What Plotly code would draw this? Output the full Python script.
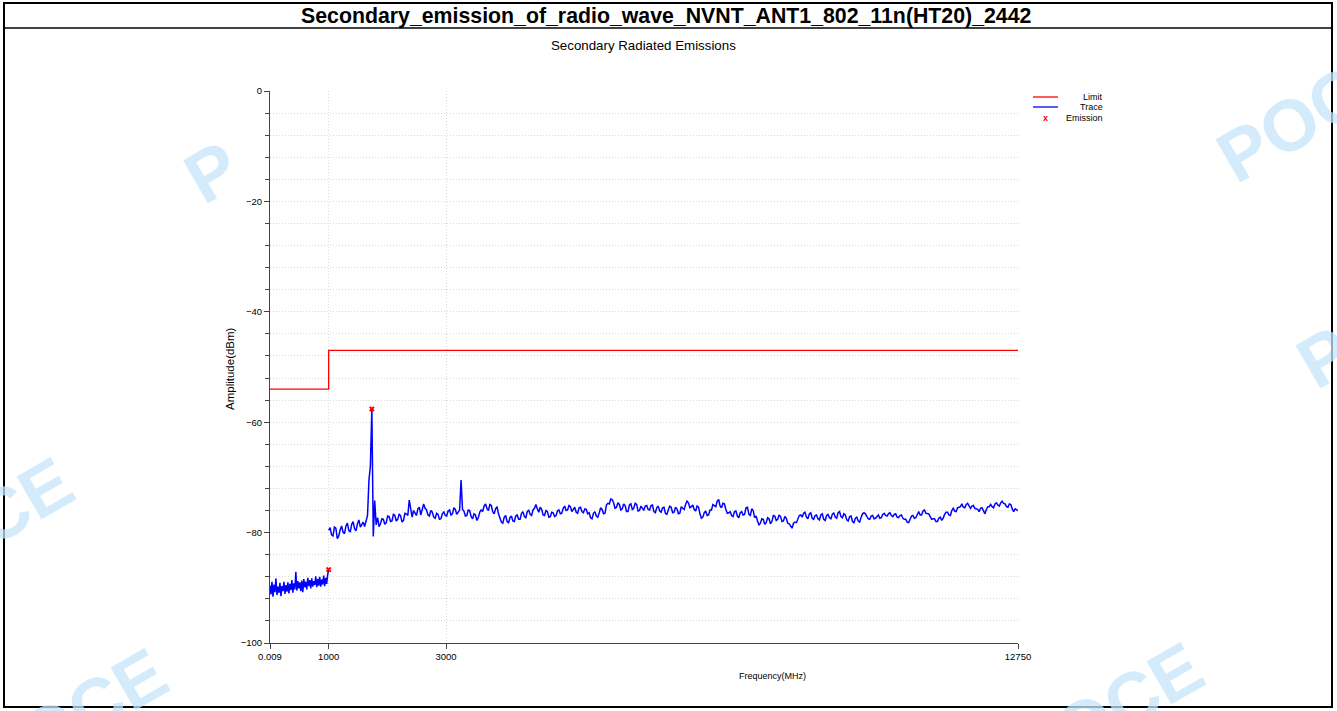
import numpy as np
import plotly.graph_objects as go

# ---- data -------------------------------------------------------------
# Limit line (dBm), step at 1 GHz
limit_freq = [0.009, 1000, 1000, 12750]
limit_level = [-54, -54, -47, -47]

# Measured trace, 9 kHz - 1 GHz (dBm)
trace_low = [
    -89.6, -91.2, -88.9, -91.6, -89.4, -90.8, -88.3, -91.3, -89.8, -90.9,
    -89.1, -91.5, -89.7, -90.6, -88.9, -91.1, -89.5, -90.7, -89.0, -91.0,
    -89.3, -90.4, -88.6, -90.9, -89.2, -90.3, -87.1, -90.5, -88.8, -90.1,
    -89.0, -90.6, -88.7, -90.8, -88.4, -89.9, -88.9, -90.3, -88.2, -89.7,
    -88.6, -90.1, -88.3, -89.8, -88.8, -89.5, -87.9, -89.9, -88.4, -89.6,
    -88.0, -89.8, -88.5, -89.4, -87.8, -89.7, -88.2, -89.3, -87.6, -86.7,
]

# Measured trace, 1 GHz - 12.75 GHz (dBm)
trace_high = [
    -79.6, -79.1, -80.4, -80.6, -79.0, -79.2, -81.1, -80.6, -79.5, -78.8,
    -79.9, -80.2, -78.8, -78.3, -79.6, -79.9, -78.5, -78.0, -79.3, -79.7,
    -78.4, -77.7, -79.0, -78.6, -78.1, -78.9, -77.8, -76.9, -70.5, -67.9,
    -57.6, -80.7, -74.2, -78.6, -77.3, -78.9, -78.4, -77.5, -77.6, -78.5,
    -78.2, -77.0, -77.1, -78.0, -77.9, -76.7, -76.9, -77.9, -77.6, -76.6,
    -77.0, -78.1, -77.8, -76.5, -76.6, -76.9, -74.1, -76.2, -77.2, -76.0,
    -76.4, -76.9, -75.7, -75.4, -76.8, -76.0, -74.8, -75.6, -75.9, -76.8,
    -77.0, -76.0, -76.3, -77.2, -77.4, -76.5, -76.7, -77.6, -77.5, -76.6,
    -76.2, -76.9, -77.0, -76.1, -75.9, -76.8, -76.6, -75.5, -75.8, -76.7,
    -76.4, -75.9, -70.5, -75.8, -76.1, -77.0, -76.9, -75.9, -76.0, -77.1,
    -77.5, -76.6, -76.8, -77.8, -77.3, -76.3, -75.9, -76.2, -75.2, -74.8,
    -75.6, -76.0, -74.9, -75.1, -76.2, -76.6, -75.7, -75.3, -76.6, -77.6,
    -78.1, -78.3, -77.2, -76.9, -78.0, -78.2, -77.3, -77.0, -77.9, -78.0,
    -77.0, -76.8, -77.6, -77.6, -76.5, -76.2, -77.1, -77.3, -76.2, -75.9,
    -76.7, -76.9, -75.9, -75.6, -74.9, -75.7, -76.3, -75.4, -75.8, -76.8,
    -76.9, -76.0, -76.2, -77.2, -77.1, -76.3, -76.4, -77.1, -76.9, -76.1,
    -75.9, -76.6, -76.5, -75.6, -75.2, -76.0, -75.9, -75.1, -75.3, -76.2,
    -75.7, -75.4, -76.3, -76.5, -75.5, -75.4, -76.2, -76.4, -75.7, -75.8,
    -76.6, -76.4, -77.3, -77.5, -76.5, -76.2, -77.0, -77.2, -76.4, -75.5,
    -75.8, -76.6, -76.5, -75.0, -74.7, -74.8, -73.9, -74.0, -74.6, -75.6,
    -75.4, -74.6, -74.9, -75.9, -75.7, -74.8, -75.1, -76.2, -76.2, -75.0,
    -74.8, -75.8, -75.6, -74.7, -74.9, -76.1, -76.0, -75.2, -75.6, -75.9,
    -75.2, -75.1, -75.8, -75.9, -75.1, -75.0, -76.2, -76.4, -75.5, -75.2,
    -76.1, -76.3, -75.5, -75.4, -76.5, -76.7, -75.9, -75.2, -75.4, -76.4,
    -76.3, -75.4, -75.7, -76.6, -76.5, -75.3, -75.6, -75.8, -74.9, -74.3,
    -74.6, -75.5, -75.3, -75.0, -75.8, -76.1, -75.2, -75.4, -76.6, -77.4,
    -77.2, -76.4, -76.1, -76.9, -76.8, -75.9, -75.9, -74.9, -75.1, -75.3,
    -74.3, -74.0, -75.2, -75.5, -74.7, -74.8, -75.8, -76.5, -76.4, -76.2,
    -76.9, -77.1, -76.2, -76.1, -77.0, -77.3, -76.4, -76.2, -76.8, -76.7,
    -75.5, -75.4, -76.7, -76.9, -75.7, -76.0, -77.3, -77.0, -77.9, -78.6,
    -78.3, -77.5, -77.6, -78.5, -78.2, -77.3, -77.5, -78.4, -78.0, -76.9,
    -77.0, -77.8, -77.6, -76.8, -77.1, -78.0, -77.9, -77.1, -77.4, -78.3,
    -78.4, -78.9, -79.2, -78.3, -78.1, -78.2, -77.5, -76.9, -76.8, -77.2,
    -76.5, -76.3, -77.2, -77.5, -76.6, -76.4, -77.4, -77.6, -76.9, -76.8,
    -77.5, -77.7, -76.8, -76.6, -77.6, -77.8, -76.9, -76.7, -77.3, -77.5,
    -76.7, -76.4, -77.2, -77.4, -76.4, -76.2, -77.1, -77.3, -76.6, -76.8,
    -77.7, -77.9, -77.1, -77.0, -78.0, -78.2, -77.4, -77.2, -77.9, -78.1,
    -77.2, -76.6, -76.4, -76.6, -77.1, -77.5, -77.6, -77.0, -76.9, -77.5,
    -77.4, -77.0, -76.8, -77.4, -77.3, -76.7, -76.5, -76.9, -77.0, -76.6,
    -76.4, -76.9, -77.1, -76.7, -76.6, -77.2, -77.3, -76.9, -76.8, -77.4,
    -77.6, -77.6, -78.1, -78.2, -77.5, -77.0, -76.9, -77.4, -77.3, -76.6,
    -76.2, -76.8, -76.8, -76.1, -75.9, -76.5, -76.6, -76.6, -77.1, -77.6,
    -77.5, -77.5, -78.0, -78.0, -77.4, -77.2, -77.8, -77.4, -76.7, -76.3,
    -76.3, -76.8, -76.9, -76.0, -75.6, -76.1, -76.2, -75.5, -75.4, -75.3,
    -74.8, -75.4, -75.5, -74.9, -74.7, -75.3, -75.6, -75.2, -75.1, -75.6,
    -75.7, -75.8, -76.2, -75.6, -75.5, -76.2, -76.6, -75.8, -75.3, -75.3,
    -74.9, -75.3, -75.5, -74.8, -74.6, -75.0, -75.2, -74.6, -74.3, -74.7,
    -74.8, -75.3, -75.4, -74.8, -74.9, -75.7, -76.2, -75.7, -75.8, -76.0,
]

# Sweep frequency grids (MHz)
freq_low = np.linspace(0.009, 1000, len(trace_low))
freq_high = np.linspace(1000, 12750, len(trace_high))

x_ticks = [0.009, 1000, 3000, 12750]
x_tick_text = ["0.009", "1000", "3000", "12750"]
y_ticks = [0, -20, -40, -60, -80, -100]

# Worst-case emission per sweep range
i_lo = int(np.argmax(trace_low))
i_hi = int(np.argmax(trace_high))
emission_freq = [freq_low[i_lo], freq_high[i_hi]]
emission_level = [trace_low[i_lo], trace_high[i_hi]]

# ---- geometry helpers (pixel -> paper) --------------------------------
W, H = 1337, 711
L, R, T, B = 270, 1018, 91, 643


def px(x):
    return (x - L) / (R - L)


def py(y):
    return (B - y) / (B - T)


FONT = "Liberation Sans, Arial, sans-serif"
WM = "rgba(196, 228, 250, 0.75)"

fig = go.Figure()

fig.add_trace(go.Scatter(
    x=limit_freq, y=limit_level, mode="lines",
    line=dict(color="#ff0000", width=1.3), name="Limit", showlegend=False,
))
fig.add_trace(go.Scatter(
    x=list(freq_low) + [None] + list(freq_high),
    y=trace_low + [None] + trace_high,
    mode="lines", line=dict(color="#0000ff", width=1.5),
    name="Trace", showlegend=False, connectgaps=False,
))
fig.add_trace(go.Scatter(
    x=emission_freq, y=emission_level, mode="markers",
    marker=dict(symbol="x", size=5, color="#ff0000", line=dict(width=0)),
    name="Emission", showlegend=False,
))

shapes = []
annotations = []

# faint background watermarks
for txt, cx, cy in [("POCE", 1312, 112), ("POCE", 1392, 318), ("POCE", 1108, 712),
                    ("POCE", -22, 527), ("POCE", 72, 718)]:
    annotations.append(dict(
        text=txt, x=px(cx), y=py(cy), xref="paper", yref="paper",
        showarrow=False, textangle=-30,
        font=dict(family=FONT, size=72, color=WM, weight="bold"),
        xanchor="center", yanchor="middle",
    ))
annotations.append(dict(
    text="P", x=px(212), y=py(172), xref="paper", yref="paper",
    showarrow=False, textangle=-30,
    font=dict(family=FONT, size=72, color=WM, weight="bold"),
    xanchor="center", yanchor="middle",
))

# outer frame and title bar
shapes.append(dict(type="rect", xref="paper", yref="paper",
                   x0=px(4), x1=px(1332), y0=py(707), y1=py(3),
                   line=dict(color="#000000", width=2)))
shapes.append(dict(type="line", xref="paper", yref="paper",
                   x0=px(4), x1=px(1332), y0=py(28), y1=py(28),
                   line=dict(color="#000000", width=1.5)))

annotations.append(dict(
    text="Secondary_emission_of_radio_wave_NVNT_ANT1_802_11n(HT20)_2442",
    x=px(666), y=py(16), xref="paper", yref="paper", showarrow=False,
    font=dict(family=FONT, size=21.3, color="#000000", weight="bold"),
    xanchor="center", yanchor="middle",
))
annotations.append(dict(
    text="Secondary Radiated Emissions",
    x=px(643), y=py(46), xref="paper", yref="paper", showarrow=False,
    font=dict(family=FONT, size=13.3, color="#000000"),
    xanchor="center", yanchor="middle",
))
annotations.append(dict(
    text="Amplitude(dBm)", x=px(230), y=py(369), xref="paper", yref="paper",
    showarrow=False, textangle=-90,
    font=dict(family=FONT, size=11.5, color="#000000"),
    xanchor="center", yanchor="middle",
))
annotations.append(dict(
    text="Frequency(MHz)", x=px(772), y=py(676), xref="paper", yref="paper",
    showarrow=False, font=dict(family=FONT, size=9, color="#000000"),
    xanchor="center", yanchor="middle",
))

# legend block
leg_rows = [("Limit", "#ff0000", "line", 97), ("Trace", "#0000ff", "line", 107),
            ("Emission", "#ff0000", "x", 118)]
for name, col, kind, yy in leg_rows:
    if kind == "line":
        shapes.append(dict(type="line", xref="paper", yref="paper",
                           x0=px(1033), x1=px(1058), y0=py(yy), y1=py(yy),
                           line=dict(color=col, width=1.3)))
    else:
        annotations.append(dict(
            text="x", x=px(1045), y=py(yy), xref="paper", yref="paper",
            showarrow=False, font=dict(family=FONT, size=9, color=col, weight="bold"),
            xanchor="center", yanchor="middle",
        ))
    annotations.append(dict(
        text=name, x=px(1105), y=py(yy), xref="paper", yref="paper",
        showarrow=False, font=dict(family=FONT, size=9, color="#000000"),
        xanchor="right", yanchor="middle",
    ))

GRID_COLOR = "#d9d9d9"
GRID_DASH = "1px,2px"
grid = dict(gridcolor=GRID_COLOR, griddash=GRID_DASH, gridwidth=1)

fig.update_layout(
    width=W, height=H,
    margin=dict(l=L, r=W - R, t=T, b=H - B, pad=0),
    paper_bgcolor="#ffffff", plot_bgcolor="#ffffff",
    showlegend=False,
    shapes=shapes, annotations=annotations,
    font=dict(family=FONT, size=10, color="#000000"),
    xaxis=dict(
        range=[0.009, 12750], tickmode="array", tickvals=x_ticks, ticktext=x_tick_text,
        ticks="outside", ticklen=5, tickcolor="#444444", showline=True,
        linecolor="#444444", linewidth=1, zeroline=False, showgrid=True,
        tickfont=dict(size=9.5), **grid,
    ),
    yaxis=dict(
        range=[-100, 0], tickmode="array", tickvals=y_ticks,
        ticks="outside", ticklen=5, tickcolor="#444444", showline=True,
        linecolor="#444444", linewidth=1, zeroline=False, showgrid=True,
        tickfont=dict(size=9.5),
        minor=dict(tickmode="linear", tick0=0, dtick=4, ticks="outside", ticklen=4,
                   tickcolor="#444444", showgrid=True, gridcolor=GRID_COLOR,
                   griddash=GRID_DASH),
        **grid,
    ),
)

fig.write_html("out.html")
